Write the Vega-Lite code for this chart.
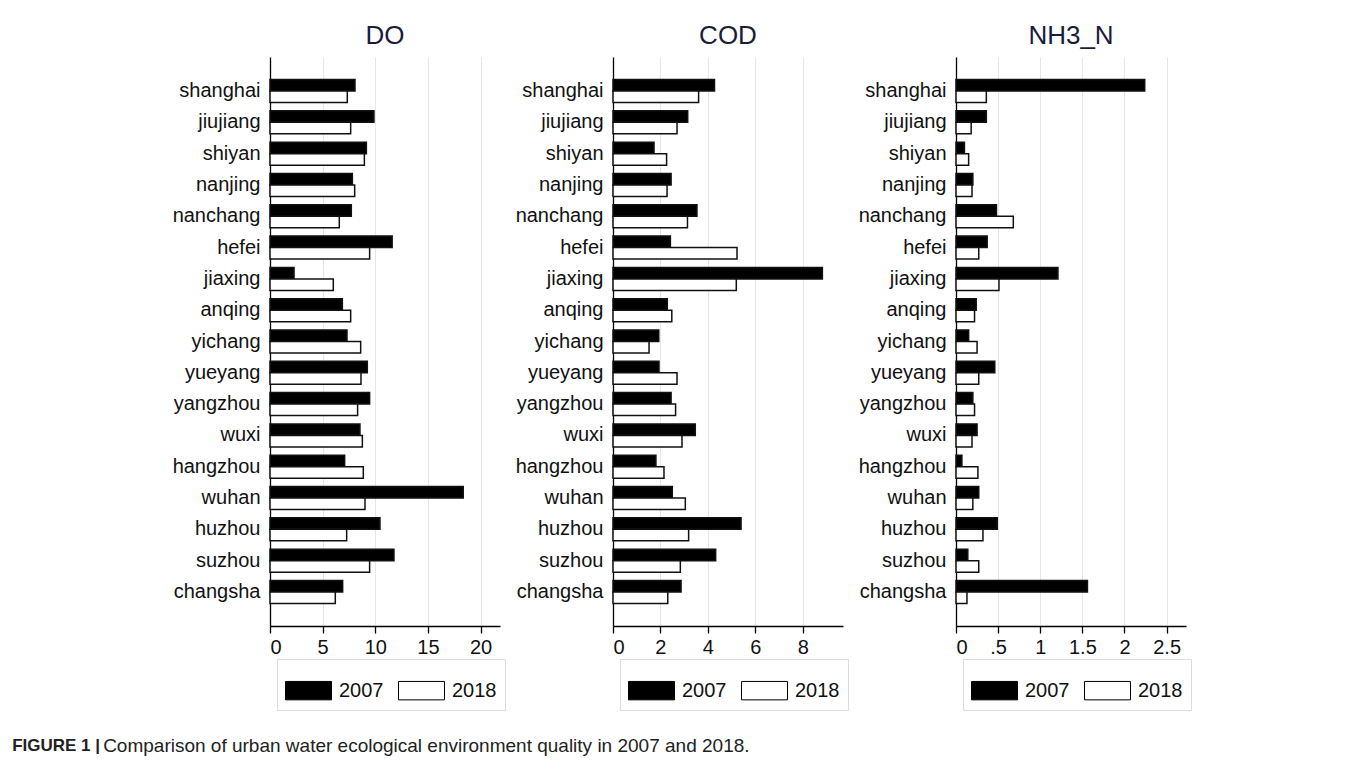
{
  "$schema": "https://vega.github.io/schema/vega-lite/v6.json",
  "background": "white",
  "padding": {"left": 12, "top": 23, "right": 5, "bottom": 5},
  "datasets": {
    "water": [
      {"city": "shanghai", "year": "2007", "DO": 8.07, "COD": 4.28, "NH3_N": 2.24},
      {"city": "shanghai", "year": "2018", "DO": 7.34, "COD": 3.61, "NH3_N": 0.36},
      {"city": "jiujiang", "year": "2007", "DO": 9.87, "COD": 3.15, "NH3_N": 0.36},
      {"city": "jiujiang", "year": "2018", "DO": 7.66, "COD": 2.70, "NH3_N": 0.18},
      {"city": "shiyan", "year": "2007", "DO": 9.15, "COD": 1.73, "NH3_N": 0.10},
      {"city": "shiyan", "year": "2018", "DO": 8.96, "COD": 2.26, "NH3_N": 0.15},
      {"city": "nanjing", "year": "2007", "DO": 7.82, "COD": 2.45, "NH3_N": 0.20},
      {"city": "nanjing", "year": "2018", "DO": 8.04, "COD": 2.28, "NH3_N": 0.19},
      {"city": "nanchang", "year": "2007", "DO": 7.72, "COD": 3.54, "NH3_N": 0.48},
      {"city": "nanchang", "year": "2018", "DO": 6.58, "COD": 3.14, "NH3_N": 0.68},
      {"city": "hefei", "year": "2007", "DO": 11.6, "COD": 2.42, "NH3_N": 0.37},
      {"city": "hefei", "year": "2018", "DO": 9.46, "COD": 5.23, "NH3_N": 0.27},
      {"city": "jiaxing", "year": "2007", "DO": 2.28, "COD": 8.83, "NH3_N": 1.21},
      {"city": "jiaxing", "year": "2018", "DO": 6.01, "COD": 5.20, "NH3_N": 0.51},
      {"city": "anqing", "year": "2007", "DO": 6.87, "COD": 2.29, "NH3_N": 0.24},
      {"city": "anqing", "year": "2018", "DO": 7.66, "COD": 2.48, "NH3_N": 0.22},
      {"city": "yichang", "year": "2007", "DO": 7.31, "COD": 1.93, "NH3_N": 0.15},
      {"city": "yichang", "year": "2018", "DO": 8.61, "COD": 1.52, "NH3_N": 0.25},
      {"city": "yueyang", "year": "2007", "DO": 9.24, "COD": 1.94, "NH3_N": 0.46},
      {"city": "yueyang", "year": "2018", "DO": 8.64, "COD": 2.70, "NH3_N": 0.27},
      {"city": "yangzhou", "year": "2007", "DO": 9.46, "COD": 2.45, "NH3_N": 0.20},
      {"city": "yangzhou", "year": "2018", "DO": 8.32, "COD": 2.64, "NH3_N": 0.22},
      {"city": "wuxi", "year": "2007", "DO": 8.54, "COD": 3.47, "NH3_N": 0.25},
      {"city": "wuxi", "year": "2018", "DO": 8.77, "COD": 2.91, "NH3_N": 0.19},
      {"city": "hangzhou", "year": "2007", "DO": 7.09, "COD": 1.81, "NH3_N": 0.07},
      {"city": "hangzhou", "year": "2018", "DO": 8.86, "COD": 2.15, "NH3_N": 0.26},
      {"city": "wuhan", "year": "2007", "DO": 18.35, "COD": 2.50, "NH3_N": 0.27},
      {"city": "wuhan", "year": "2018", "DO": 9.02, "COD": 3.05, "NH3_N": 0.20},
      {"city": "huzhou", "year": "2007", "DO": 10.44, "COD": 5.40, "NH3_N": 0.49},
      {"city": "huzhou", "year": "2018", "DO": 7.28, "COD": 3.19, "NH3_N": 0.32},
      {"city": "suzhou", "year": "2007", "DO": 11.77, "COD": 4.33, "NH3_N": 0.14},
      {"city": "suzhou", "year": "2018", "DO": 9.46, "COD": 2.84, "NH3_N": 0.27},
      {"city": "changsha", "year": "2007", "DO": 6.90, "COD": 2.87, "NH3_N": 1.56},
      {"city": "changsha", "year": "2018", "DO": 6.20, "COD": 2.31, "NH3_N": 0.13}
    ]
  },
  "config": {
    "font": "Liberation Sans",
    "view": {"stroke": null},
    "axis": {"labelFont": "Liberation Sans", "labelFontSize": 20, "labelColor": "#111", "domainColor": "#000", "tickColor": "#000", "domainWidth": 1.3, "tickWidth": 1.3, "title": null},
    "title": {"font": "Liberation Sans", "fontSize": 26, "fontWeight": "normal", "color": "#1b1b3a", "anchor": "middle", "offset": 8},
    "legend": {"title": null, "orient": "none", "legendX": 7, "legendY": 602, "direction": "horizontal", "strokeColor": "#dcdcdc", "padding": 8, "symbolType": "M-1,-0.4H1V0.4H-1Z", "symbolSize": 2116, "symbolStrokeColor": "#000", "symbolStrokeWidth": 1, "labelFont": "Liberation Sans", "labelFontSize": 20, "labelOffset": 7, "columnPadding": 12, "labelColor": "#111"}
  },
  "title": {"text": "FIGURE 1 |", "orient": "bottom", "anchor": "start", "fontSize": 17, "fontWeight": "bold", "color": "#222", "dx": -91, "dy": -18, "offset": 0},
  "vconcat": [
    {
      "title": {"text": "Comparison of urban water ecological environment quality in 2007 and 2018.", "orient": "bottom", "anchor": "start", "fontSize": 19, "fontWeight": "normal", "color": "#222", "dx": -69, "offset": 26},
      "spacing": 9,
      "resolve": {"scale": {"x": "independent", "y": "independent", "fill": "independent"}, "legend": {"fill": "independent"}},
      "hconcat": [
        {
          "title": "DO",
          "width": 230, "height": 569,
          "data": {"name": "water"},
          "mark": {"type": "bar", "stroke": "#111", "strokeWidth": 1.5},
          "encoding": {
            "y": {"field": "city", "type": "nominal", "sort": ["shanghai","jiujiang","shiyan","nanjing","nanchang","hefei","jiaxing","anqing","yichang","yueyang","yangzhou","wuxi","hangzhou","wuhan","huzhou","suzhou","changsha"], "scale": {"paddingInner": 0.265, "paddingOuter": 0.72}, "axis": {"ticks": false, "labelPadding": 10, "grid": false}},
            "yOffset": {"field": "year", "type": "nominal", "scale": {"paddingInner": 0, "paddingOuter": 0}},
            "x": {"field": "DO", "type": "quantitative", "scale": {"domain": [0, 21.84], "nice": false}, "axis": {"values": [0, 5, 10, 15, 20], "grid": true, "gridColor": "#e6e6e6", "tickSize": 7, "labelPadding": 4}},
            "fill": {"field": "year", "type": "nominal", "scale": {"domain": ["2007", "2018"], "range": ["#000000", "#ffffff"]}}
          }
        },
        {
          "title": "COD",
          "width": 230, "height": 569,
          "data": {"name": "water"},
          "mark": {"type": "bar", "stroke": "#111", "strokeWidth": 1.5},
          "encoding": {
            "y": {"field": "city", "type": "nominal", "sort": ["shanghai","jiujiang","shiyan","nanjing","nanchang","hefei","jiaxing","anqing","yichang","yueyang","yangzhou","wuxi","hangzhou","wuhan","huzhou","suzhou","changsha"], "scale": {"paddingInner": 0.265, "paddingOuter": 0.72}, "axis": {"ticks": false, "labelPadding": 10, "grid": false}},
            "yOffset": {"field": "year", "type": "nominal", "scale": {"paddingInner": 0, "paddingOuter": 0}},
            "x": {"field": "COD", "type": "quantitative", "scale": {"domain": [0, 9.7], "nice": false}, "axis": {"values": [0, 2, 4, 6, 8], "grid": true, "gridColor": "#e6e6e6", "tickSize": 7, "labelPadding": 4}},
            "fill": {"field": "year", "type": "nominal", "scale": {"domain": ["2007", "2018"], "range": ["#000000", "#ffffff"]}}
          }
        },
        {
          "title": "NH3_N",
          "width": 230, "height": 569,
          "data": {"name": "water"},
          "mark": {"type": "bar", "stroke": "#111", "strokeWidth": 1.5},
          "encoding": {
            "y": {"field": "city", "type": "nominal", "sort": ["shanghai","jiujiang","shiyan","nanjing","nanchang","hefei","jiaxing","anqing","yichang","yueyang","yangzhou","wuxi","hangzhou","wuhan","huzhou","suzhou","changsha"], "scale": {"paddingInner": 0.265, "paddingOuter": 0.72}, "axis": {"ticks": false, "labelPadding": 10, "grid": false}},
            "yOffset": {"field": "year", "type": "nominal", "scale": {"paddingInner": 0, "paddingOuter": 0}},
            "x": {"field": "NH3_N", "type": "quantitative", "scale": {"domain": [0, 2.73], "nice": false}, "axis": {"values": [0, 0.5, 1, 1.5, 2, 2.5], "labelExpr": "datum.value == 0.5 ? '.5' : format(datum.value, '~g')", "grid": true, "gridColor": "#e6e6e6", "tickSize": 7, "labelPadding": 4}},
            "fill": {"field": "year", "type": "nominal", "scale": {"domain": ["2007", "2018"], "range": ["#000000", "#ffffff"]}}
          }
        }
      ]
    }
  ]
}
